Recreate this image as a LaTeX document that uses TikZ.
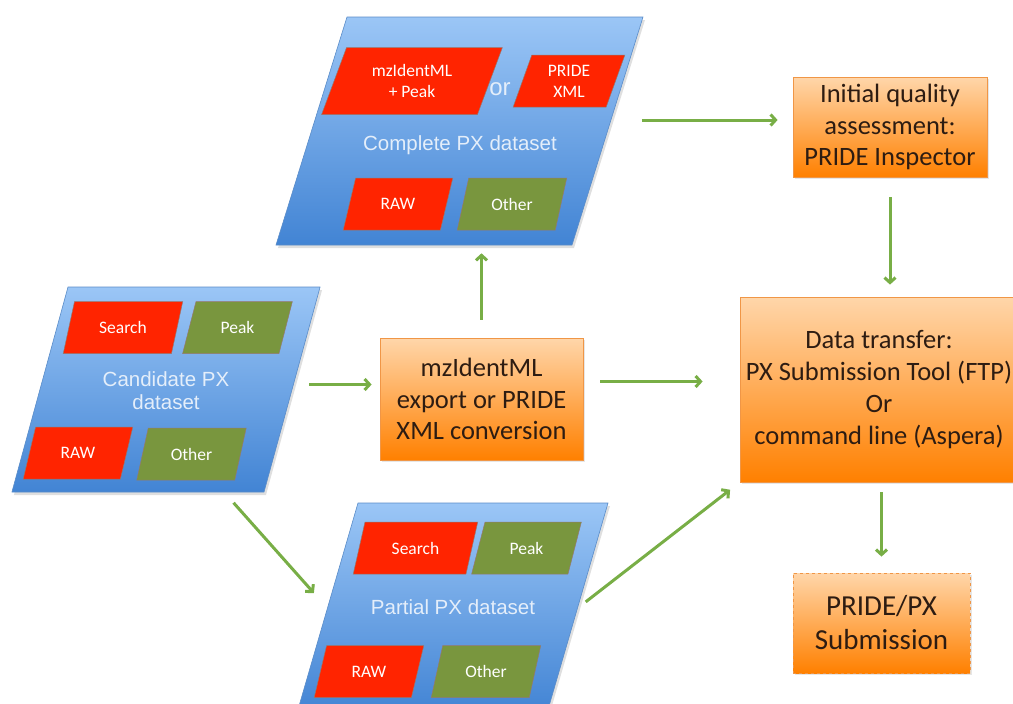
\documentclass[tikz,border=0pt]{standalone}
\usepackage{fontspec}
\setmainfont{Carlito}
\newfontfamily\helvfont{Liberation Sans}
\usepackage{tikz}
\usetikzlibrary{arrows.meta,positioning,shapes.geometric,shadows}
\definecolor{pxbluetop}{RGB}{155,198,246}
\definecolor{pxbluebot}{RGB}{66,132,212}
\definecolor{pxblueline}{RGB}{90,140,200}
\definecolor{pxred}{RGB}{255,36,0}
\definecolor{pxolive}{RGB}{121,150,62}
\definecolor{pxchipline}{RGB}{150,120,110}
\definecolor{pxorangetop}{RGB}{255,214,170}
\definecolor{pxorangebot}{RGB}{255,128,0}
\definecolor{pxorangeline}{RGB}{240,150,70}
\definecolor{pxgreen}{RGB}{120,174,70}
\definecolor{pxink}{RGB}{45,28,18}
\definecolor{pxlabel}{RGB}{228,238,250}

\begin{document}
\begin{tikzpicture}[x=1pt,y=-1pt,
  pgram/.style={trapezium,draw=pxblueline,line width=.6pt,
    top color=pxbluetop,bottom color=pxbluebot,inner sep=0pt,
    drop shadow={opacity=.25,shadow xshift=2pt,shadow yshift=-3pt}},
  chip/.style={trapezium,trapezium left angle=68,trapezium right angle=112,
    trapezium stretches=true,minimum width=110pt,minimum height=52pt,
    inner sep=1pt,draw=pxchipline,line width=.5pt,text=white,align=center,
    font=\fontsize{17.5}{21}\selectfont},
  redchip/.style={chip,fill=pxred},
  greenchip/.style={chip,fill=pxolive},
  setlabel/.style={text=pxlabel,align=center,font=\helvfont\fontsize{20.5}{23}\selectfont},
  stepbox/.style={draw=pxorangeline,line width=.8pt,top color=pxorangetop,
    bottom color=pxorangebot,text=pxink,align=center,
    font=\fontsize{26.5}{31.5}\selectfont,
    drop shadow={opacity=.2,shadow xshift=1.5pt,shadow yshift=-2pt}},
  flow/.style={-{Straight Barb[length=5pt,width=11pt]},line width=3pt,draw=pxgreen}]
\useasboundingbox (0,0) rectangle (1013,704);
\clip (0,0) rectangle (1013,704);
% complete dataset
\node[pgram,trapezium left angle=72.7,trapezium right angle=107.3,
  text width=225pt,text height=114pt,text depth=114pt] (cpl) at (459.5,131) {};
\node[redchip,minimum width=181pt,minimum height=67pt,
  trapezium left angle=66,trapezium right angle=114] (cplm) at (412,81) {mzIdentML\\+ Peak};
\node[redchip,minimum width=112pt,trapezium left angle=72,
  trapezium right angle=108] (cplx) at (569,81) {PRIDE\\XML};
\node[setlabel,font=\helvfont\fontsize{24}{26}\selectfont] (cplor) at (500,89) {or};
\node[setlabel] (cpll) at (460,145) {Complete PX dataset};
\node[redchip] (cplr) at (398,204) {RAW};
\node[greenchip] (cplo) at (512,204) {Other};
% candidate dataset
\node[pgram,trapezium left angle=74.7,trapezium right angle=105.3,
  text width=196pt,text height=102.5pt,text depth=102.5pt] (cnd) at (166,389.5) {};
\node[redchip,minimum width=120pt] (cnds) at (123,327.5) {Search};
\node[greenchip] (cndp) at (237.5,327.5) {Peak};
\node[setlabel] (cndl) at (166,391) {Candidate PX\\dataset};
\node[redchip] (cndr) at (78,453) {RAW};
\node[greenchip] (cndo) at (191.5,454) {Other};
% partial dataset
\node[pgram,trapezium left angle=73.8,trapezium right angle=106.2,
  text width=189pt,text height=105pt,text depth=105pt] (prt) at (452.5,608) {};
\node[redchip,minimum width=125pt] (prts) at (415.5,548) {Search};
\node[greenchip] (prtp) at (526.5,548) {Peak};
\node[setlabel] (prtl) at (453,607) {Partial PX dataset};
\node[redchip] (prtr) at (369,671.5) {RAW};
\node[greenchip] (prto) at (486,671.5) {Other};
% steps
\node[stepbox,minimum width=194pt,minimum height=100pt] (iqa) at (890,127)
  {Initial quality\\assessment:\\PRIDE Inspector};
\node[stepbox,minimum width=203pt,minimum height=122pt] (mzx) at (481.5,399)
  {mzIdentML\\export or PRIDE\\XML conversion};
\node[stepbox,minimum width=278pt,minimum height=185pt,
  font=\fontsize{26.5}{32}\selectfont] (dtr) at (879,389.5)
  {Data transfer:\\PX Submission Tool (FTP)\\Or\\command line (Aspera)};
\node[stepbox,dashed,minimum width=177pt,minimum height=100pt,
  font=\fontsize{29}{34}\selectfont] (sub) at (881.5,623) {PRIDE/PX\\Submission};
% arrows
\draw[flow,shorten <=34pt,shorten >=15pt] ([yshift=7pt]iqa.west -| cpl.east) -- ([yshift=7pt]iqa.west);
\draw[flow,shorten <=20pt,shorten >=12pt] (iqa.south) -- (iqa.south |- dtr.north);
\draw[flow,shorten <=18pt,shorten >=8pt] (mzx.north) -- (mzx.north |- cpl.south);
\draw[flow,shorten <=17pt,shorten >=8pt] ([yshift=5pt]cnd.east) -- ([yshift=5pt]cnd.east -| mzx.west);
\draw[flow,shorten <=17pt,shorten >=37pt] ([yshift=8pt]mzx.east |- dtr.west) -- ([yshift=8pt]dtr.west);
\draw[flow,shorten <=14pt,shorten >=20pt] ([xshift=-40pt]cnd.bottom right corner) -- (prt.west);
\draw[flow,shorten <=10pt,shorten >=12pt] (prt.east) -- (dtr.south west);
\draw[flow,shorten <=10pt,shorten >=16pt] (sub.north |- dtr.south) -- (sub.north);
\end{tikzpicture}
\end{document}
